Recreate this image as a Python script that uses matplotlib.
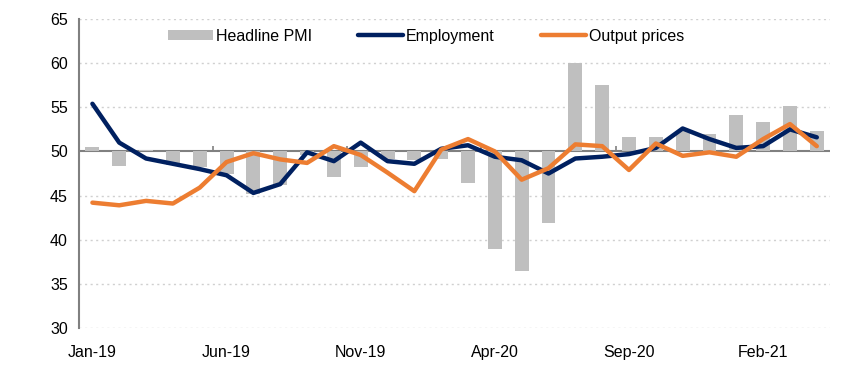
import numpy as np
import matplotlib
matplotlib.use("Agg")
import matplotlib.pyplot as plt

# %% ---------------------------------
#           data
# ------------------------------------
months = ["Jan-19", "Feb-19", "Mar-19", "Apr-19", "May-19", "Jun-19", "Jul-19",
          "Aug-19", "Sep-19", "Oct-19", "Nov-19", "Dec-19", "Jan-20", "Feb-20",
          "Mar-20", "Apr-20", "May-20", "Jun-20", "Jul-20", "Aug-20", "Sep-20",
          "Oct-20", "Nov-20", "Dec-20", "Jan-21", "Feb-21", "Mar-21", "Apr-21"]
headline_pmi = [50.5, 48.3, 50.2, 48.5, 48.2, 47.4, 45.2, 46.2, 49.6, 47.1,
                48.2, 49.2, 49.0, 49.2, 46.4, 38.9, 36.5, 41.9, 60.0, 57.5,
                51.6, 51.6, 52.3, 52.0, 54.1, 53.3, 55.1, 52.3]
employment = [55.4, 51.0, 49.2, 48.6, 48.0, 47.3, 45.3, 46.3, 49.9, 48.9,
              51.0, 48.9, 48.6, 50.3, 50.7, 49.4, 49.0, 47.5, 49.2, 49.4,
              49.7, 50.4, 52.6, 51.4, 50.4, 50.6, 52.5, 51.6]
output_prices = [44.2, 43.9, 44.4, 44.1, 45.9, 48.8, 49.8, 49.1, 48.7, 50.6,
                 49.6, 47.6, 45.5, 50.2, 51.4, 50.0, 46.8, 48.1, 50.8, 50.6,
                 47.9, 50.9, 49.5, 49.9, 49.4, 51.4, 53.1, 50.6]
label_every = 5
baseline = 50

# %% ---------------------------------
#           plot
# ------------------------------------
plt.rcParams['font.family'] = ['Liberation Sans', 'DejaVu Sans']
fig = plt.figure(figsize=(8.55, 3.75), dpi=100)
ax = fig.add_axes([0.0924, 0.1253, 0.8786, 0.824])

x = np.arange(len(months))
pmi = np.array(headline_pmi)
h_bar = ax.bar(x, pmi - baseline, bottom=baseline, width=0.52, color="#BFBFBF",
               label="Headline PMI", zorder=2)
h_emp, = ax.plot(x, employment, color="#002060", lw=3.2, label="Employment",
                 solid_capstyle="round", zorder=3)
h_out, = ax.plot(x, output_prices, color="#ED7D31", lw=3.2, label="Output prices",
                 solid_capstyle="round", zorder=4)

# grid + axis line at 50
for yv in range(30, 66, 5):
    if yv == baseline:
        continue
    ax.axhline(yv, color="#D0D0D0", lw=1, ls=(0, (1.5, 2.5)), zorder=0)
ax.axhline(baseline, color="#808080", lw=1.5, zorder=1)
ax.vlines(np.arange(label_every - 0.5, len(months), label_every), baseline,
          baseline + 0.6, color="#808080", lw=1.2, zorder=1)

ax.set_ylim(30, 65)
ax.set_xlim(-0.5, len(months) - 0.5)
ax.set_yticks(range(30, 66, 5))
ax.set_xticks(x[::label_every])
ax.set_xticklabels(months[::label_every])
ax.tick_params(axis="both", length=0, labelsize=11.5, colors="black")
ax.tick_params(axis="x", pad=12)
ax.tick_params(axis="y", pad=8)

for s in ["top", "right", "bottom"]:
    ax.spines[s].set_visible(False)
ax.spines["left"].set_color("#808080")
ax.spines["left"].set_linewidth(1.5)

ax.legend([h_bar, h_emp, h_out], ["Headline PMI", "Employment", "Output prices"],
          loc="upper center", bbox_to_anchor=(0.462, 1.0), ncol=3,
          frameon=False, fontsize=11.5, handlelength=2.8, handleheight=0.6,
          handletextpad=0.2, columnspacing=2.9, borderaxespad=0.2)

fig.savefig("out.png", dpi=100)
